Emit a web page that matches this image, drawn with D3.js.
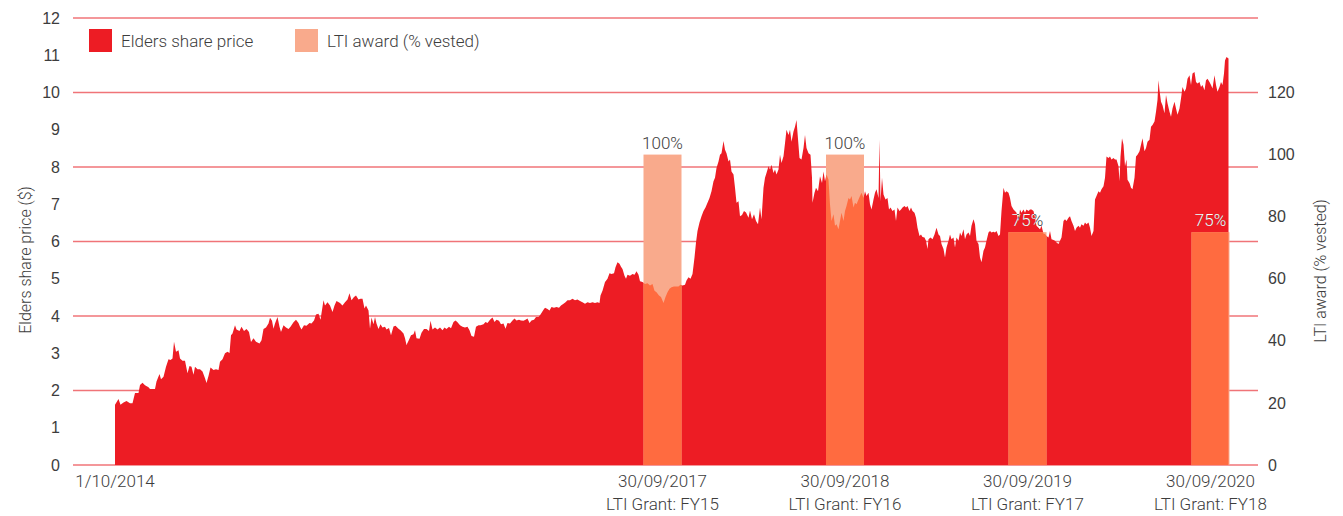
<!DOCTYPE html>
<html>
<head>
<meta charset="utf-8">
<script src="https://cdn.jsdelivr.net/npm/d3@7"></script>
<style>
  html, body { margin: 0; padding: 0; background: #fff; }
  svg { display: block; font-family: Roboto, "Open Sans", "Noto Sans", sans-serif; font-weight: 300; }
</style>
</head>
<body>
<svg id="chart" width="1343" height="516"></svg>
<script>
// Elders share price, as [days since 1 Oct 2014, closing price $]
const priceStart = "2014-10-01";

const pricesOct14toDec15 = [
  [0,1.62],[7,1.77],[11,1.62],[17,1.68],[23,1.72],[30,1.66],[35,1.66],[40,1.93],[47,1.93],[50,2.15],
  [55,2.21],[60,2.14],[67,2.09],[70,2.04],[77,2.04],[80,2.04],[83,2.24],[89,2.44],[92,2.30],[97,2.37],
  [102,2.64],[107,2.84],[111,2.82],[115,2.86],[118,3.31],[122,3.04],[127,3.08],[130,2.86],[135,2.80],[140,2.80],
  [145,2.46],[149,2.66],[153,2.64],[157,2.42],[160,2.64],[165,2.57],[170,2.57],[175,2.51],[180,2.33],[183,2.20],
  [187,2.39],[191,2.62],[197,2.55],[202,2.57],[207,2.55],[210,2.77],[215,2.84],[220,3.00],[225,3.04],[229,3.01],
  [232,3.48],[235,3.53],[240,3.75],[243,3.64],[249,3.60],[253,3.71],[258,3.60],[263,3.65],[268,3.57],[272,3.30],
  [277,3.40],[282,3.31],[289,3.26],[293,3.35],[297,3.65],[302,3.69],[307,3.80],[310,3.95],[314,3.87],[317,3.66],
  [320,3.80],[325,3.97],[329,3.71],[332,3.57],[337,3.75],[342,3.69],[347,3.65],[351,3.71],[357,3.83],[362,3.90],
  [367,3.81],[370,3.71],[373,3.64],[378,3.75],[383,3.74],[389,3.81],[393,3.80],[398,3.88],[402,4.04],[407,4.06],
  [411,3.90],[417,4.42],[420,4.28],[425,4.37],[430,4.28],[435,4.11],[439,4.28],[443,4.40]
];

const pricesDec15toMar17 = [
  [450,4.35],[455,4.28],[460,4.37],[465,4.44],[469,4.61],[473,4.42],[478,4.51],[482,4.55],[487,4.44],[491,4.46],
  [495,4.46],[499,4.20],[502,4.28],[507,4.15],[510,3.66],[513,3.96],[517,3.78],[520,3.97],[523,3.80],[527,3.65],
  [531,3.78],[535,3.69],[540,3.71],[543,3.64],[548,3.68],[552,3.48],[557,3.72],[561,3.74],[567,3.66],[571,3.62],
  [577,3.53],[580,3.40],[583,3.22],[588,3.36],[592,3.48],[597,3.51],[600,3.62],[603,3.40],[609,3.39],[613,3.55],
  [618,3.65],[623,3.65],[628,3.60],[631,3.87],[635,3.64],[640,3.69],[645,3.64],[650,3.69],[655,3.62],[659,3.69],
  [663,3.65],[668,3.71],[672,3.67],[677,3.84],[681,3.88],[685,3.83],[690,3.75],[695,3.71],[700,3.69],[705,3.71],
  [709,3.62],[713,3.46],[718,3.44],[722,3.71],[727,3.75],[731,3.75],[737,3.78],[741,3.84],[745,3.81],[750,3.90],
  [755,3.96],[759,3.84],[763,3.90],[768,3.87],[772,3.78],[777,3.80],[781,3.66],[785,3.81],[790,3.80],[795,3.88],
  [799,3.93],[803,3.88],[808,3.90],[812,3.88],[817,3.87],[821,3.90],[825,3.93],[829,3.81],[833,3.88],[838,3.90],
  [842,3.97],[847,3.97],[851,4.04],[857,4.17],[860,4.22],[865,4.19],[869,4.15],[873,4.24],[878,4.22],[883,4.24],
  [888,4.22],[892,4.28],[897,4.33],[901,4.37],[905,4.42]
];

const pricesMar17toJun18 = [
  [910,4.42],[915,4.46],[920,4.42],[925,4.44],[930,4.40],[935,4.37],[940,4.33],[945,4.37],[950,4.35],[955,4.37],
  [960,4.35],[965,4.37],[969,4.35],[971,4.55],[975,4.68],[980,4.91],[985,5.00],[989,5.15],[993,5.13],[998,5.15],
  [1001,5.31],[1005,5.44],[1009,5.40],[1012,5.32],[1015,5.26],[1019,5.08],[1022,5.00],[1025,5.11],[1030,5.08],[1035,5.13],
  [1039,5.11],[1043,5.20],[1047,5.11],[1050,4.93],[1055,4.91],[1060,4.86],[1065,4.88],[1070,4.82],[1075,4.86],[1079,4.68],
  [1083,4.64],[1088,4.55],[1092,4.51],[1097,4.35],[1101,4.51],[1105,4.64],[1109,4.73],[1113,4.77],[1118,4.79],[1123,4.79],
  [1127,4.79],[1131,4.84],[1135,4.82],[1140,4.84],[1143,4.95],[1147,5.04],[1151,5.00],[1155,5.13],[1159,5.57],[1162,5.97],
  [1165,6.28],[1169,6.51],[1173,6.68],[1177,6.82],[1181,6.91],[1185,7.04],[1189,7.17],[1193,7.35],[1197,7.62],[1200,7.71],
  [1203,7.97],[1207,8.15],[1210,8.33],[1213,8.37],[1217,8.70],[1220,8.46],[1223,8.37],[1227,8.15],[1230,8.20],[1233,7.88],
  [1237,7.80],[1240,7.44],[1243,7.04],[1247,7.08],[1250,6.68],[1254,6.71],[1258,6.82],[1262,6.78],[1267,6.64],[1270,6.83],
  [1274,6.60],[1278,6.73],[1282,6.55],[1286,6.46],[1290,6.91],[1293,6.60],[1297,7.44],[1300,7.71],[1303,7.84],[1307,8.02],
  [1310,7.93],[1313,8.06],[1317,7.84],[1320,7.93],[1323,7.80],[1327,7.93],[1330,8.33],[1333,8.11],[1337,8.29],[1340,8.64],
  [1343,9.00],[1347,8.86],[1350,9.00],[1353,8.68],[1357,8.95],[1360,9.08],[1363,9.26]
];

const pricesJun18toSep19 = [
  [1369,8.24],[1373,8.20],[1377,8.51],[1380,8.86],[1383,8.51],[1387,8.37],[1391,8.33],[1394,7.71],[1395,7.04],[1399,7.31],
  [1402,7.44],[1406,7.35],[1410,7.75],[1414,7.57],[1417,7.88],[1420,7.62],[1423,7.80],[1427,7.66],[1430,6.99],[1433,6.55],
  [1437,6.73],[1440,6.42],[1443,6.46],[1447,6.33],[1450,6.55],[1453,6.77],[1457,6.55],[1460,6.82],[1463,6.95],[1467,7.17],
  [1470,7.13],[1473,7.22],[1477,6.91],[1480,7.04],[1483,7.00],[1487,7.13],[1490,7.22],[1493,7.31],[1497,7.17],[1500,7.35],
  [1503,7.22],[1507,7.31],[1510,7.00],[1513,6.86],[1517,7.13],[1520,7.31],[1523,7.40],[1527,7.17],[1529,8.73],[1531,7.08],
  [1534,7.71],[1537,7.26],[1541,7.13],[1545,7.17],[1548,6.86],[1551,6.91],[1555,6.82],[1559,6.86],[1562,6.55],[1565,6.91],
  [1569,6.82],[1572,6.86],[1575,6.91],[1579,6.95],[1582,6.91],[1585,6.95],[1589,6.82],[1592,6.91],[1595,6.82],[1599,6.77],
  [1602,6.64],[1605,6.37],[1609,6.15],[1612,6.19],[1615,6.12],[1619,6.11],[1622,6.02],[1625,5.80],[1627,6.06],[1631,6.11],
  [1635,6.06],[1639,6.19],[1643,6.37],[1647,6.19],[1650,6.15],[1653,5.93],[1657,5.80],[1660,5.57],[1663,5.84],[1667,6.02],
  [1670,6.19],[1673,6.06],[1677,6.11],[1680,5.84],[1683,6.11],[1687,6.02],[1690,6.24],[1693,6.15],[1697,6.33],[1700,6.06],
  [1703,6.19],[1707,6.24],[1710,6.15],[1713,6.42],[1717,6.60],[1720,6.46],[1723,6.02],[1727,5.93],[1730,5.57],[1733,5.44],
  [1737,5.75],[1740,5.84],[1743,6.02],[1747,6.24],[1750,6.28],[1753,6.24],[1757,6.26],[1760,6.24],[1763,6.28],[1767,6.15],
  [1770,6.19],[1773,6.82],[1777,7.44],[1780,7.31],[1783,7.35],[1787,7.31],[1790,7.17],[1793,6.95],[1797,6.86],[1800,6.82],
  [1803,6.77],[1807,6.55]
];

const pricesSep19toNov20 = [
  [1810,6.86],[1813,6.77],[1817,6.86],[1820,6.77],[1823,6.86],[1827,6.82],[1830,6.86],[1833,6.86],[1837,6.82],[1840,6.64],
  [1843,6.42],[1847,6.37],[1850,6.33],[1853,6.42],[1857,6.21],[1860,6.20],[1863,6.15],[1867,6.11],[1870,6.28],[1873,6.06],
  [1877,6.04],[1880,6.02],[1883,5.97],[1887,5.93],[1890,6.02],[1893,6.11],[1897,6.55],[1900,6.60],[1903,6.55],[1907,6.64],
  [1910,6.68],[1913,6.55],[1917,6.42],[1920,6.28],[1923,6.37],[1927,6.42],[1930,6.37],[1933,6.46],[1937,6.42],[1940,6.51],
  [1943,6.46],[1947,6.51],[1950,6.37],[1953,6.15],[1957,6.28],[1960,7.13],[1963,7.22],[1967,7.35],[1970,7.31],[1973,7.40],
  [1977,7.48],[1980,7.71],[1983,8.28],[1987,8.24],[1990,8.28],[1993,8.20],[1997,8.24],[2000,8.20],[2003,8.20],[2007,8.02],
  [2009,7.62],[2011,8.28],[2014,8.77],[2017,8.60],[2020,8.02],[2023,8.20],[2025,7.66],[2029,7.57],[2032,7.44],[2035,7.40],
  [2039,7.71],[2042,8.28],[2045,8.33],[2049,8.42],[2052,8.60],[2055,8.77],[2059,8.42],[2062,8.51],[2065,8.68],[2069,8.73],
  [2072,9.08],[2075,9.13],[2079,9.22],[2082,9.48],[2085,9.80],[2087,10.33],[2089,10.06],[2092,9.75],[2095,9.66],[2099,9.44],
  [2102,9.93],[2105,9.71],[2109,9.48],[2112,9.35],[2115,9.57],[2119,9.75],[2122,9.57],[2125,9.40],[2129,9.57],[2132,9.84],
  [2135,10.15],[2139,10.02],[2142,10.11],[2145,10.37],[2149,10.46],[2152,10.20],[2155,10.51],[2159,10.55],[2162,10.28],[2165,10.24],
  [2169,10.28],[2172,10.15],[2175,10.20],[2179,10.06],[2182,10.33],[2185,10.37],[2189,10.28],[2192,10.20],[2195,10.11],[2199,10.46],
  [2202,10.20],[2205,10.02],[2209,10.15],[2212,10.28],[2215,10.20],[2218,10.51],[2220,10.86],[2223,10.95],[2227,10.91]
];

// LTI awards: vesting test dates, percentage vested and grant year
const vestDates = ["2017-09-30", "2018-09-30", "2019-09-30", "2020-09-30"];
const vestPercent = [100, 100, 75, 75];
const grantLabels = ["LTI Grant: FY15", "LTI Grant: FY16", "LTI Grant: FY17", "LTI Grant: FY18"];

// Axis ticks
const priceTicks = [0, 1, 2, 3, 4, 5, 6, 7, 8, 9, 10, 11, 12];
const gridTicks = [0, 2, 4, 6, 8, 10, 12];
const awardTicks = [0, 20, 40, 60, 80, 100, 120];
const seriesNames = ["Elders share price", "LTI award (% vested)"];
const axisTitles = ["Elders share price ($)", "LTI award (% vested)"];

// ---- styling ----
const COLORS = {
  price: "#ED1C24",
  award: "#F9AA8C",
  overlap: "#FF6B40",
  grid: "#F07478",
  text: "#3d3d3d"
};
const plot = { left: 73, right: 1258, top: 18, bottom: 465 };
const barWidth = 38;

const svg = d3.select("#chart");
const parse = d3.utcParse("%Y-%m-%d");
const start = parse(priceStart);

const prices = [
  ...pricesOct14toDec15, ...pricesDec15toMar17, ...pricesMar17toJun18,
  ...pricesJun18toSep19, ...pricesSep19toNov20
].map(([d, v]) => ({ date: d3.utcDay.offset(start, d), value: v }));

const awards = vestDates.map((d, i) => ({
  date: parse(d), pct: vestPercent[i], grant: grantLabels[i]
}));

const x = d3.scaleUtc()
  .domain(d3.extent(prices, d => d.date))
  .range([115, 1228.5]);

const y = d3.scaleLinear().domain([0, 12]).range([plot.bottom, plot.top]);
const y2 = d3.scaleLinear().domain([0, 144]).range([plot.bottom, plot.top]);

// gridlines
svg.append("g")
  .selectAll("line")
  .data(gridTicks)
  .join("line")
  .attr("x1", plot.left).attr("x2", plot.right)
  .attr("y1", d => y(d)).attr("y2", d => y(d))
  .attr("stroke", COLORS.grid)
  .attr("stroke-width", 1.5);

// share price area
const area = d3.area()
  .x(d => x(d.date))
  .y0(y(0))
  .y1(d => y(d.value))
  .curve(d3.curveLinear);

svg.append("defs").append("clipPath")
  .attr("id", "price-clip")
  .append("path")
  .attr("d", area(prices));

svg.append("path")
  .datum(prices)
  .attr("d", area)
  .attr("fill", COLORS.price);

// LTI award bars: light part above the price, stronger tint where they overlap it
const bars = svg.append("g");
bars.selectAll("rect.award")
  .data(awards)
  .join("rect")
  .attr("class", "award")
  .attr("x", d => x(d.date) - barWidth / 2)
  .attr("width", barWidth)
  .attr("y", d => y2(d.pct))
  .attr("height", d => y2(0) - y2(d.pct))
  .attr("fill", COLORS.award);

bars.selectAll("rect.overlap")
  .data(awards)
  .join("rect")
  .attr("class", "overlap")
  .attr("clip-path", "url(#price-clip)")
  .attr("x", d => x(d.date) - barWidth / 2)
  .attr("width", barWidth)
  .attr("y", d => y2(d.pct))
  .attr("height", d => y2(0) - y2(d.pct))
  .attr("fill", COLORS.overlap);

// percentage labels: dark on white, white where they fall on the price area
const labelGap = 6;
function pctLabels(g, fill) {
  g.selectAll("text")
    .data(awards)
    .join("text")
    .attr("x", d => x(d.date))
    .attr("y", d => y2(d.pct) - labelGap)
    .attr("text-anchor", "middle")
    .attr("font-size", 17)
    .attr("fill", fill)
    .text(d => d.pct + "%");
}
svg.append("g").call(pctLabels, COLORS.text);
svg.append("g").attr("clip-path", "url(#price-clip)").call(pctLabels, "#ffffff");

// left axis
const leftAxis = svg.append("g")
  .attr("transform", `translate(${plot.left},0)`)
  .call(d3.axisLeft(y).tickValues(priceTicks).tickSize(0).tickPadding(13));
leftAxis.select(".domain").remove();
leftAxis.selectAll("text")
  .attr("font-size", 16).attr("font-family", null).attr("fill", COLORS.text);

// right axis
const rightAxis = svg.append("g")
  .attr("transform", `translate(${plot.right},0)`)
  .call(d3.axisRight(y2).tickValues(awardTicks).tickSize(0).tickPadding(10));
rightAxis.select(".domain").remove();
rightAxis.selectAll("text")
  .attr("font-size", 16).attr("font-family", null).attr("fill", COLORS.text);

// bottom date labels
const fmt = d3.utcFormat("%-d/%m/%Y");
const xLabels = [{ date: start, grant: null }, ...awards];
const xl = svg.append("g")
  .selectAll("text")
  .data(xLabels)
  .join("text")
  .attr("text-anchor", "middle")
  .attr("font-size", 17)
  .attr("fill", COLORS.text);
xl.append("tspan")
  .attr("x", d => x(d.date))
  .attr("y", 487)
  .text(d => fmt(d.date));
xl.filter(d => d.grant)
  .append("tspan")
  .attr("x", d => x(d.date))
  .attr("y", 510)
  .text(d => d.grant);

// axis titles
svg.append("text")
  .attr("transform", "translate(31,260) rotate(-90)")
  .attr("text-anchor", "middle")
  .attr("font-size", 16)
  .attr("fill", COLORS.text)
  .text(axisTitles[0]);

svg.append("text")
  .attr("transform", "translate(1326,271) rotate(-90)")
  .attr("text-anchor", "middle")
  .attr("font-size", 16)
  .attr("fill", COLORS.text)
  .text(axisTitles[1]);

// legend
const legend = svg.append("g")
  .selectAll("g")
  .data(seriesNames)
  .join("g")
  .attr("transform", (d, i) => `translate(${[89, 295][i]},29)`);
legend.append("rect")
  .attr("width", 23).attr("height", 23)
  .attr("fill", (d, i) => [COLORS.price, COLORS.award][i]);
legend.append("text")
  .attr("x", 32).attr("y", 18)
  .attr("font-size", 17)
  .attr("fill", COLORS.text)
  .text(d => d);
</script>
</body>
</html>
